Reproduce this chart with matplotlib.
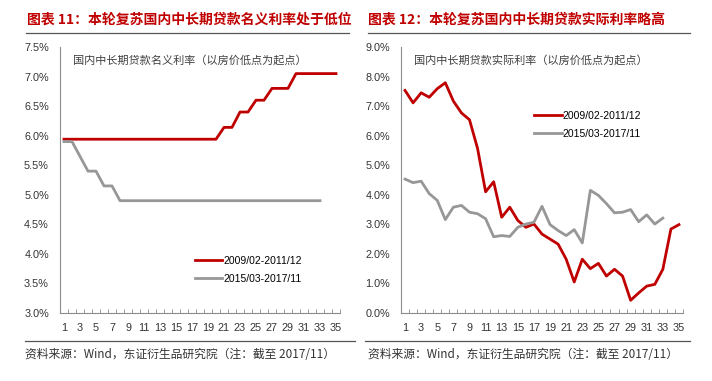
import numpy as np
import matplotlib
matplotlib.use("Agg")
import matplotlib.pyplot as plt
from matplotlib.lines import Line2D
from matplotlib.ticker import FuncFormatter, FixedLocator

plt.rcParams['font.family'] = ['Liberation Sans', 'Noto Sans CJK SC', 'DejaVu Sans']
CJK = ['Noto Sans CJK SC', 'DejaVu Sans']

months = list(range(1, 36))

# nominal rate (%), 2009/02-2011/12 and 2015/03-2017/11
nominal_0911 = [5.94] * 20 + [6.14, 6.14, 6.40, 6.40, 6.60, 6.60, 6.80, 6.80, 6.80,
                              7.05, 7.05, 7.05, 7.05, 7.05, 7.05]
nominal_1517 = [5.90, 5.90, 5.65, 5.40, 5.40, 5.15, 5.15] + [4.90] * 26

# real rate (%)
real_0911 = [7.53, 7.11, 7.45, 7.30, 7.59, 7.79, 7.17, 6.77, 6.54, 5.57,
             4.10, 4.44, 3.24, 3.58, 3.13, 2.90, 3.01, 2.67, 2.50, 2.33,
             1.82, 1.05, 1.82, 1.50, 1.68, 1.25, 1.48, 1.25, 0.43, 0.68,
             0.91, 0.97, 1.48, 2.84, 2.99]
real_1517 = [4.53, 4.41, 4.46, 4.04, 3.81, 3.16, 3.58, 3.64, 3.41, 3.36,
             3.19, 2.58, 2.62, 2.59, 2.90, 3.01, 3.07, 3.61, 2.99, 2.79,
             2.62, 2.82, 2.37, 4.15, 3.98, 3.70, 3.39, 3.41, 3.50, 3.09,
             3.32, 3.01, 3.21]

labels = ["2009/02-2011/12", "2015/03-2017/11"]
RED = "#C00000"
GREY = "#979797"
AXC = "#8c8c8c"

fig = plt.figure(figsize=(7.12, 3.81), dpi=100)
ax1 = fig.add_axes([60/712, 1-313/381, 280/712, 266/381])
ax2 = fig.add_axes([401/712, 1-313/381, 282/712, 266/381])


def style(ax, ylim, step, fmt):
    ax.set_xlim(0.5, 35.5)
    ax.set_ylim(*ylim)
    ax.set_yticks(np.arange(ylim[0], ylim[1] + step / 2, step))
    ax.yaxis.set_major_formatter(FuncFormatter(lambda v, p: fmt.format(v)))
    ax.set_xticks(range(1, 36, 2))
    ax.xaxis.set_minor_locator(FixedLocator(np.arange(0.5, 36, 1)))
    ax.tick_params(axis='x', which='major', length=0, pad=7, labelsize=7.8, colors="#333333")
    ax.tick_params(axis='x', which='minor', length=3, direction='in', color=AXC, width=0.6)
    ax.tick_params(axis='y', length=0, pad=8, labelsize=7.8, colors="#333333")
    for s in ['top', 'right']:
        ax.spines[s].set_visible(False)
    for s in ['left', 'bottom']:
        ax.spines[s].set_color(AXC)
        ax.spines[s].set_linewidth(0.8)


ax1.plot(months[:len(nominal_0911)], nominal_0911, color=RED, lw=2.0, label=labels[0],
         solid_joinstyle='round')
ax1.plot(months[:len(nominal_1517)], nominal_1517, color=GREY, lw=2.0, label=labels[1],
         solid_joinstyle='round')
style(ax1, (3.0, 7.5), 0.5, "{:.1f}%")
ax1.text(0.046, 0.951, "国内中长期贷款名义利率（以房价低点为起点）", transform=ax1.transAxes,
         family=CJK, fontsize=8, color="#404040", va='center')
ax1.legend(frameon=False, loc='upper left', bbox_to_anchor=(0.45, 0.25), fontsize=7.5,
           handlelength=2.6, handletextpad=0.1, labelspacing=0.75)

ax2.plot(months[:len(real_0911)], real_0911, color=RED, lw=2.0, label=labels[0],
         solid_joinstyle='round')
ax2.plot(months[:len(real_1517)], real_1517, color=GREY, lw=2.0, label=labels[1],
         solid_joinstyle='round')
style(ax2, (0.0, 9.0), 1.0, "{:.1f}%")
ax2.text(0.046, 0.951, "国内中长期贷款实际利率（以房价低点为起点）", transform=ax2.transAxes,
         family=CJK, fontsize=8, color="#404040", va='center')
ax2.legend(frameon=False, loc='upper left', bbox_to_anchor=(0.44, 0.795), fontsize=7.5,
           handlelength=2.6, handletextpad=0.1, labelspacing=0.75)

# titles, rules and source notes
fig.text(27/712, 1-20/381, "图表 11：本轮复苏国内中长期贷款名义利率处于低位", family=CJK,
         fontsize=10, fontweight='bold', color="#C00000", va='center')
fig.text(368/712, 1-20/381, "图表 12：本轮复苏国内中长期贷款实际利率略高", family=CJK,
         fontsize=10, fontweight='bold', color="#C00000", va='center')
fig.add_artist(Line2D([26/712, 349/712], [1-33/381, 1-33/381], color="#555555", lw=0.9))
fig.add_artist(Line2D([368/712, 690/712], [1-33/381, 1-33/381], color="#555555", lw=0.9))
fig.add_artist(Line2D([25/712, 355/712], [1-341/381, 1-341/381], color="#555555", lw=0.9))
fig.add_artist(Line2D([365/712, 690/712], [1-341/381, 1-341/381], color="#555555", lw=0.9))
src = "资料来源：Wind，东证衍生品研究院（注：截至 2017/11）"
fig.text(25/712, 1-355/381, src, family=CJK, fontsize=8.5, color="#333333", va='center')
fig.text(368/712, 1-355/381, src, family=CJK, fontsize=8.5, color="#333333", va='center')

fig.savefig("out.png", dpi=100)
